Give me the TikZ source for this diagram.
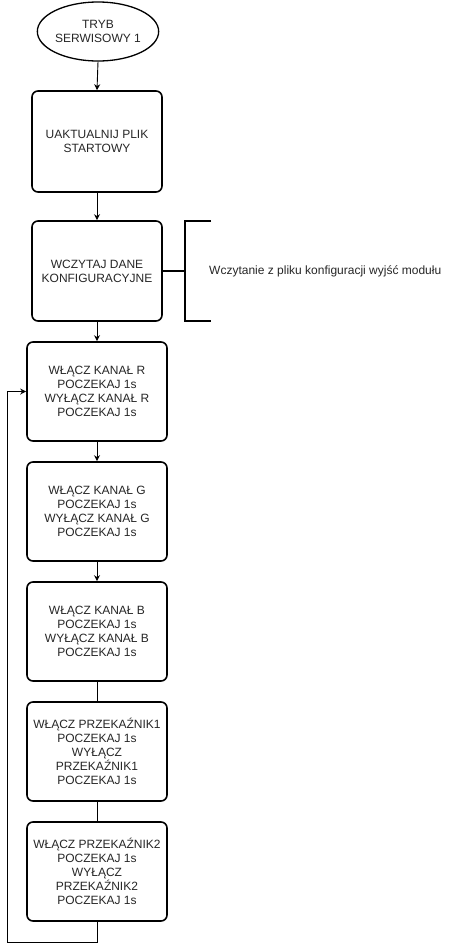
\documentclass[tikz,border=0pt]{standalone}
\usepackage{fontspec}
\setmainfont{Liberation Sans}
\usetikzlibrary{arrows.meta,shapes.geometric}
\begin{document}
\begin{tikzpicture}[x=1pt,y=-1pt,
  every node/.style={font=\fontsize{12}{14}\selectfont, text=black!85},
  stepbox/.style={draw, line width=1.6pt, rounded corners=6pt, align=center, inner sep=0pt},
  conn/.style={line width=0.9pt},
  arr/.style={conn, -{Stealth[length=6pt,width=6pt]}}]
\useasboundingbox (0,0) rectangle (458,951);
\node[draw, ellipse, line width=1.3pt, minimum width=100pt, minimum height=59pt, inner sep=0pt, align=center] (start) at (98,31.5) {TRYB\\SERWISOWY 1};
\node[stepbox, minimum width=130pt, minimum height=101pt] (b1) at (97,141.5) {UAKTUALNIJ PLIK\\STARTOWY};
\node[stepbox, minimum width=130pt, minimum height=100pt] (b2) at (97,271) {WCZYTAJ DANE\\KONFIGURACYJNE};
\node[stepbox, minimum width=140pt, minimum height=99pt] (b3) at (97,391.5) {WŁĄCZ KANAŁ R\\POCZEKAJ 1s\\WYŁĄCZ KANAŁ R\\POCZEKAJ 1s};
\node[stepbox, minimum width=140pt, minimum height=99pt] (b4) at (97,511.5) {WŁĄCZ KANAŁ G\\POCZEKAJ 1s\\WYŁĄCZ KANAŁ G\\POCZEKAJ 1s};
\node[stepbox, minimum width=140pt, minimum height=99pt] (b5) at (97,631.5) {WŁĄCZ KANAŁ B\\POCZEKAJ 1s\\WYŁĄCZ KANAŁ B\\POCZEKAJ 1s};
\node[stepbox, minimum width=140pt, minimum height=99pt] (b6) at (97,751.5) {WŁĄCZ PRZEKAŹNIK1\\POCZEKAJ 1s\\WYŁĄCZ\\PRZEKAŹNIK1\\POCZEKAJ 1s};
\node[stepbox, minimum width=140pt, minimum height=99pt] (b7) at (97,871.5) {WŁĄCZ PRZEKAŹNIK2\\POCZEKAJ 1s\\WYŁĄCZ\\PRZEKAŹNIK2\\POCZEKAJ 1s};
% annotation bracket
\coordinate (bm) at (185,271);
\coordinate (bt) at (185,221);
\coordinate (bb) at (185,321);
\draw[line width=1.6pt] (211,221) -- (bt) -- (bb) -- (211,321);
\draw[line width=1.6pt] (b2.east) -- (bm);
\node[anchor=west, inner sep=0pt] (note) at (209,271) {Wczytanie z pliku konfiguracji wyjść modułu};
% connectors
\draw[arr] (start.south) -- (b1.north);
\draw[arr] (b1.south) -- (b2.north);
\draw[arr] (b2.south) -- (b3.north);
\draw[arr] (b3.south) -- (b4.north);
\draw[arr] (b4.south) -- (b5.north);
\draw[conn] (b5.south) -- (b6.north);
\draw[conn] (b6.south) -- (b7.north);
\coordinate (l1) at (97,942);
\coordinate (l2) at (7,942);
\coordinate (l3) at (7,391.5);
\draw[arr] (b7.south) -- (l1) -- (l2) -- (l3) -- (b3.west);
\end{tikzpicture}
\end{document}
